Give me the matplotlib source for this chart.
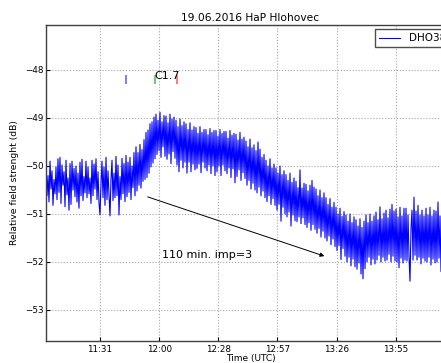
import numpy as np
import matplotlib.pyplot as plt

# time axis: fraction of day (0.50 = 12:00 UTC), one sample about every 29 s
t_start = 0.46176
t_step = 0.000338

# relative field strength of DHO38 (dB)
signal = [
    -49.95, -50.62, -50.20, -50.75, -49.90, -50.48, -50.10, -50.82, -50.28, -50.58,
    -50.02, -50.70, -49.85, -50.55, -49.82, -50.78, -49.98, -50.40, -50.12, -50.85,
    -49.88, -50.60, -50.25, -50.92, -49.95, -50.80, -49.90, -50.50, -50.05, -50.64,
    -50.00, -50.75, -50.15, -50.88, -49.92, -50.62, -49.86, -50.72, -50.22, -50.56,
    -49.90, -50.66, -50.02, -50.58, -50.25, -50.78, -49.88, -50.62, -49.96, -50.48,
    -49.85, -50.70, -50.12, -50.76, -51.02, -50.38, -49.90, -50.66, -50.02, -50.82,
    -49.82, -50.70, -50.10, -50.60, -51.04, -50.28, -49.88, -50.72, -50.15, -50.66,
    -49.80, -50.62, -49.98, -51.02, -50.22, -50.70, -49.84, -50.58, -49.95, -50.74,
    -49.78, -50.64, -49.92, -50.55, -49.82, -50.70, -50.00, -50.45, -49.72, -50.62,
    -49.60, -50.52, -49.72, -50.40, -49.55, -50.46, -49.66, -50.32, -49.45, -50.28,
    -49.30, -50.24, -49.25, -50.15, -49.12, -50.02, -49.08, -49.94, -48.98, -49.85,
    -48.92, -49.76, -49.05, -49.68, -48.88, -49.82, -49.08, -49.60, -48.95, -49.80,
    -48.96, -49.86, -49.10, -49.75, -48.92, -49.95, -49.02, -49.70, -48.98, -49.84,
    -49.05, -49.98, -49.18, -50.12, -49.02, -49.88, -49.16, -50.04, -49.08, -49.92,
    -49.12, -50.15, -49.24, -49.92, -49.10, -50.12, -49.25, -49.96, -49.18, -50.08,
    -49.20, -50.05, -49.32, -49.96, -49.18, -50.14, -49.30, -49.92, -49.24, -50.04,
    -49.24, -50.10, -49.35, -49.98, -49.22, -50.16, -49.30, -50.00, -49.26, -50.20,
    -49.26, -50.12, -49.38, -50.00, -49.24, -50.20, -49.32, -49.98, -49.28, -50.10,
    -49.28, -50.16, -49.42, -50.04, -49.26, -50.24, -49.36, -50.06, -49.32, -50.35,
    -49.34, -50.22, -49.46, -50.08, -49.30, -50.30, -49.44, -50.14, -49.40, -50.26,
    -49.48, -50.40, -49.60, -50.30, -49.44, -50.48, -49.62, -50.36, -49.56, -50.50,
    -49.68, -50.56, -49.50, -50.44, -49.65, -50.62, -49.82, -50.52, -49.76, -50.66,
    -49.88, -50.74, -50.00, -50.62, -49.85, -50.80, -50.04, -50.68, -49.96, -50.82,
    -50.04, -50.92, -50.15, -50.80, -50.00, -51.15, -50.18, -50.86, -50.10, -51.00,
    -50.18, -51.06, -50.30, -50.96, -50.15, -51.25, -50.34, -51.02, -50.25, -51.14,
    -50.32, -51.16, -50.45, -51.06, -50.08, -51.20, -50.46, -51.08, -50.36, -51.22,
    -50.38, -51.28, -50.52, -51.18, -50.40, -51.34, -50.30, -51.22, -50.44, -51.32,
    -50.48, -51.40, -50.62, -51.30, -50.50, -51.48, -50.66, -51.36, -50.56, -51.50,
    -50.66, -51.56, -50.80, -51.46, -50.68, -51.64, -50.86, -51.52, -50.76, -51.68,
    -50.86, -51.76, -51.00, -51.66, -50.88, -51.95, -51.05, -51.72, -50.95, -51.88,
    -51.02, -52.00, -51.15, -51.90, -51.00, -52.08, -51.18, -51.94, -51.06, -52.10,
    -51.12, -52.15, -51.25, -52.02, -51.10, -52.25, -51.28, -52.35, -51.15, -52.14,
    -51.02, -52.00, -51.18, -51.90, -51.00, -52.06, -51.15, -51.94, -51.04, -52.04,
    -50.96, -51.96, -51.12, -51.86, -50.85, -52.00, -51.10, -51.90, -50.98, -51.98,
    -50.92, -51.96, -51.08, -51.84, -50.90, -52.00, -50.80, -51.88, -50.94, -51.98,
    -50.90, -52.00, -51.06, -52.12, -50.86, -51.92, -51.04, -52.02, -50.88, -51.96,
    -50.88, -51.98, -51.02, -51.88, -52.40, -51.30, -50.92, -51.96, -50.65, -51.86,
    -50.94, -51.96, -50.82, -51.90, -51.02, -52.04, -50.92, -51.92, -51.04, -51.98,
    -50.88, -52.00, -51.02, -51.90, -50.86, -52.06, -51.04, -51.94, -50.92, -52.02,
    -50.94, -52.00, -50.75, -51.92, -51.04, -52.20, -50.90, -51.94, -51.00, -52.00,
    -50.92, -52.00, -51.06, -51.90, -50.90, -52.06, -51.04, -51.96, -50.96, -52.02,
]

xticks = [0.48, 0.50, 0.52, 0.54, 0.56, 0.58]
xtick_labels = ["11:31", "12:00", "12:28", "12:57", "13:26", "13:55"]
yticks = [-53, -52, -51, -50, -49, -48]

# flare C1.7: start, maximum, end
flare_times = [0.48880, 0.49860, 0.50604]
flare_colors = ["b", "g", "r"]

times = t_start + t_step * np.arange(len(signal))

fig = plt.figure(figsize=(4.41, 3.63), dpi=100)
ax = fig.add_axes([46 / 441, 22 / 363, 409 / 441, 316 / 363])

ax.plot(times, signal, color="b", lw=0.8, label="DHO38")

for ft, c in zip(flare_times, flare_colors):
    ax.vlines(ft, -48.29, -48.10, colors=c, lw=1.2, alpha=0.6)
ax.text(0.49826, -48.19, "C1.7", fontsize=8)

ax.annotate("", xy=(0.55674, -51.896), xytext=(0.49522, -50.625),
            arrowprops=dict(arrowstyle="-|>", color="k", lw=0.7, mutation_scale=6))
ax.text(0.50097, -51.92, "110 min. imp=3", fontsize=8)

ax.set_xlim(0.46176, 0.60)
ax.set_ylim(-53.646, -47.0625)
ax.set_xticks(xticks)
ax.set_xticklabels(xtick_labels)
ax.set_yticks(yticks)
ax.tick_params(direction="in", labelsize=6.3, length=3)
ax.tick_params(axis="y", pad=2)
ax.tick_params(axis="x", pad=3)
ax.grid(True, color="0.65", linestyle=":", linewidth=0.8)
for sp in ax.spines.values():
    sp.set_color("0.25")
    sp.set_linewidth(1.0)

ax.set_title("19.06.2016 HaP Hlohovec", fontsize=7.7, pad=3)
ax.set_xlabel("Time (UTC)", fontsize=6.5, labelpad=0)
ax.set_ylabel("Relative field strenght (dB)", fontsize=6.7, labelpad=4)

ax.legend(loc="upper right", fontsize=7.5, fancybox=False, edgecolor="0.3",
          framealpha=1, handlelength=2.0, handletextpad=0.9, borderaxespad=0.4)

fig.savefig("out.png", dpi=100)
